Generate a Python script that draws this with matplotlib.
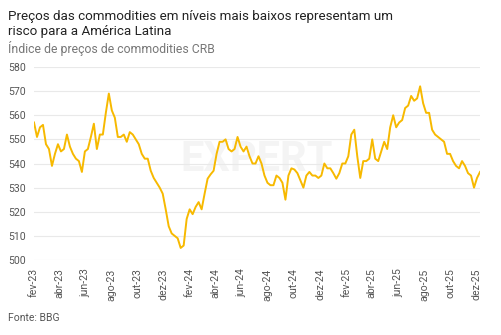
import matplotlib
matplotlib.use("Agg")
import matplotlib.pyplot as plt
import pandas as pd

plt.rcParams['font.family'] = ['Roboto', 'DejaVu Sans']

title = "Preços das commodities em níveis mais baixos representam um\nrisco para a América Latina"
subtitle = "Índice de preços de commodities CRB"
source = "Fonte: BBG"

start_date = "2023-02-01"
values = [
    557, 551, 555, 556, 548, 546, 539, 544, 548, 545,
    546, 552, 547, 544, 542, 541, 536.5, 545, 546, 551,
    556.5, 546, 552, 552, 561, 569, 562, 559, 551, 551,
    552, 549, 553, 552, 550, 548, 544, 542, 542, 537,
    534, 532, 530, 527.5, 521, 514, 511, 510, 509, 505,
    506, 517, 521, 519, 522, 524, 521, 527.5, 533.7, 535.5,
    537, 544, 549, 549, 550, 546, 545, 546, 551, 547,
    545, 547, 543, 540, 540, 543, 540, 535, 532, 531,
    531, 535, 534, 532, 525, 535, 538, 537.5, 536, 533,
    530, 535, 536.5, 535, 535, 534, 535, 540, 538, 538,
    536, 533.7, 536, 540, 540, 543, 552, 554, 543, 534,
    541, 541, 542, 550, 542, 541, 545, 549, 546, 555,
    560, 555, 557, 558, 563, 564, 568, 566, 567, 572,
    565, 561, 561, 554, 552, 551, 550, 549, 544, 544,
    541, 539, 538, 541, 539, 536, 535, 530, 534, 536.5,
]
dates = pd.date_range(start_date, periods=len(values), freq="7D")

tick_dates = pd.date_range("2023-02-01", "2025-12-01", freq="2MS")
month_pt = ["jan", "fev", "mar", "abr", "mai", "jun", "jul", "ago", "set", "out", "nov", "dez"]
tick_labels = [f"{month_pt[d.month-1]}-{d.strftime('%y')}" for d in tick_dates]
y_ticks = [500, 510, 520, 530, 540, 550, 560, 570, 580]

fig = plt.figure(figsize=(5.02, 3.35), dpi=100)
ax = fig.add_axes([34/502, 1-260/335, 446/502, 193/335])

ax.text(0.5, 0.52, "EXPERT", transform=ax.transAxes, ha="center", va="center",
        fontsize=30, fontweight="bold", color="#f4f4f4", zorder=0)

ax.plot(dates, values, color="#F7B900", lw=1.4, zorder=3, solid_joinstyle="round")

ax.set_ylim(500, 580)
ax.set_yticks(y_ticks)
ax.set_xlim(dates[0], dates[-1])
ax.set_xticks(tick_dates)
ax.set_xticklabels(tick_labels, rotation=90, ha="center", va="top")
ax.grid(axis="y", color="#e9e9e9", lw=0.8)
ax.set_axisbelow(True)
for s in ax.spines.values():
    s.set_visible(False)
ax.tick_params(axis="both", length=0, labelsize=7.6, colors="#555555")
ax.tick_params(axis="y", pad=6)
ax.tick_params(axis="x", pad=6)

fig.text(8/502, 1-10/335, title, ha="left", va="top", fontsize=9.6, color="#222222", linespacing=1.2)
fig.text(8/502, 1-41/335, subtitle, ha="left", va="top", fontsize=8.8, color="#777777")
fig.text(8/502, 1-313/335, source, ha="left", va="top", fontsize=7.5, color="#555555")

fig.savefig("out.png", dpi=100, facecolor="white")
